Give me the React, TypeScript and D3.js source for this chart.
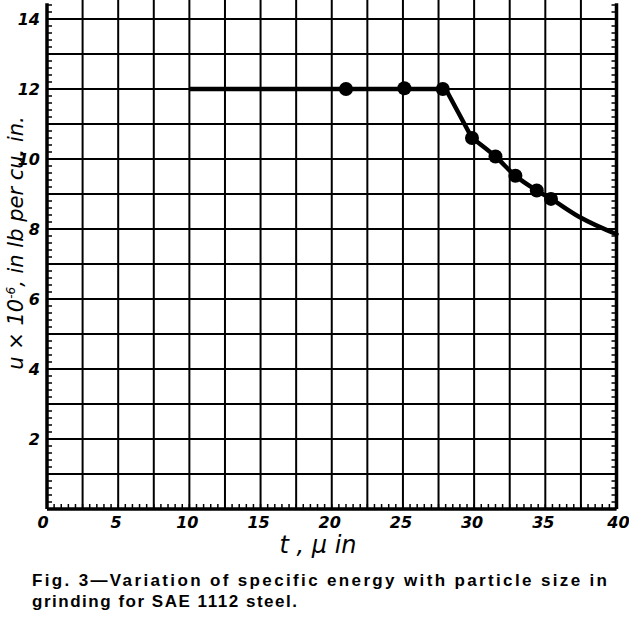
import React from "react";
import * as d3 from "d3";

// Measured points (t in micro-inches, u x 10^-6 in-lb per cu. in.)
const pointT = [21, 25.1, 27.8, 29.85, 31.5, 32.9, 34.4, 35.4];
const pointU = [12, 12.02, 12, 10.6, 10.07, 9.52, 9.1, 8.86];

// Fitted curve: straight plateau and drop, then a smooth tail
const plateauT = [10, 28, 29.85];
const plateauU = [12, 12, 10.6];
const tailT = [29.85, 31.5, 32.9, 34.4, 35.4, 37.5, 40];
const tailU = [10.6, 10.07, 9.52, 9.1, 8.86, 8.32, 7.85];

const xTickValues = [0, 5, 10, 15, 20, 25, 30, 35, 40];
const yTickValues = [2, 4, 6, 8, 10, 12, 14];

const W = 629;
const H = 617;

export default function App() {
  const x = d3.scaleLinear().domain([0, 40]).range([47, 616.5]);
  const y = d3.scaleLinear().domain([0, 14]).range([509, 19]);
  const yTop = 14.45;

  const vGrid = d3.range(0, 40.01, 2.5);
  const hGrid = d3.range(0, 14.01, 1);
  const xMinor = d3.range(0, 40.01, 0.5);
  const yMinor = d3.range(0, yTop, 0.2);

  const plateau = plateauT.map((t, i) => [t, plateauU[i]] as [number, number]);
  const tail = tailT.map((t, i) => [t, tailU[i]] as [number, number]);
  const linear = d3
    .line<[number, number]>()
    .x((d) => x(d[0]))
    .y((d) => y(d[1]));
  const smooth = d3
    .line<[number, number]>()
    .x((d) => x(d[0]))
    .y((d) => y(d[1]))
    .curve(d3.curveMonotoneX);

  const tickFont = {
    fontFamily: "DejaVu Sans",
    fontStyle: "italic" as const,
    fontWeight: 700,
    fontSize: 16,
  };
  const capFont = {
    fontFamily: "Liberation Sans, Arial, sans-serif",
    fontWeight: 700,
    fontSize: 17,
  };

  return (
    <svg
      width={W}
      height={H}
      style={{ position: "absolute", left: 0, top: 0, background: "#fff" }}
    >
      <rect x={0} y={0} width={W} height={H} fill="#fff" />
      {vGrid.map((t) => (
        <line
          key={"v" + t}
          x1={x(t)}
          x2={x(t)}
          y1={y(0)}
          y2={t === 0 || t === 40 ? y(yTop) : 0}
          stroke="#000"
          strokeWidth={t === 0 || t === 40 ? 3.5 : 2}
        />
      ))}
      {hGrid.map((u) => (
        <line
          key={"h" + u}
          x1={x(0)}
          x2={x(40)}
          y1={y(u)}
          y2={y(u)}
          stroke="#000"
          strokeWidth={u === 0 ? 3.5 : 2}
        />
      ))}
      {xMinor.map((t) => (
        <line
          key={"xm" + t}
          x1={x(t)}
          x2={x(t)}
          y1={y(0)}
          y2={y(0) - 5}
          stroke="#000"
          strokeWidth={1.5}
        />
      ))}
      {yMinor.map((u) => (
        <g key={"ym" + u}>
          <line x1={x(0)} x2={x(0) + 5} y1={y(u)} y2={y(u)} stroke="#000" strokeWidth={1.5} />
          <line x1={x(40)} x2={x(40) - 5} y1={y(u)} y2={y(u)} stroke="#000" strokeWidth={1.5} />
        </g>
      ))}
      <path d={linear(plateau) || ""} fill="none" stroke="#000" strokeWidth={4.5} strokeLinejoin="round" />
      <path d={smooth(tail) || ""} fill="none" stroke="#000" strokeWidth={4.5} strokeLinecap="round" />
      {pointT.map((t, i) => (
        <circle key={"p" + i} cx={x(t)} cy={y(pointU[i])} r={7} fill="#000" />
      ))}
      {xTickValues.map((t) => (
        <text
          key={"xl" + t}
          x={x(t) + (t === 0 ? -4 : t === 40 ? 2 : -2)}
          y={528}
          textAnchor="middle"
          style={tickFont}
        >
          {t}
        </text>
      ))}
      {yTickValues.map((u) => (
        <text key={"yl" + u} x={40} y={y(u) + 6} textAnchor="end" style={tickFont}>
          {u}
        </text>
      ))}
      <text
        x={318}
        y={553}
        textAnchor="middle"
        style={{ fontFamily: "DejaVu Sans", fontStyle: "italic", fontSize: 24 }}
      >
        t , μ in
      </text>
      <text
        transform={`translate(23, ${243}) rotate(-90)`}
        textAnchor="middle"
        style={{ fontFamily: "DejaVu Sans", fontStyle: "italic", fontSize: 21 }}
      >
        u × 10<tspan dy={-8} fontSize={12}>-6</tspan>
        <tspan dy={8}>, in lb per cu. in.</tspan>
      </text>
      <text x={32} y={586} textLength={575} lengthAdjust="spacing" style={capFont}>
        Fig. 3—Variation of specific energy with particle size in
      </text>
      <text x={32} y={607} textLength={265} lengthAdjust="spacing" style={capFont}>
        grinding for SAE 1112 steel.
      </text>
    </svg>
  );
}
